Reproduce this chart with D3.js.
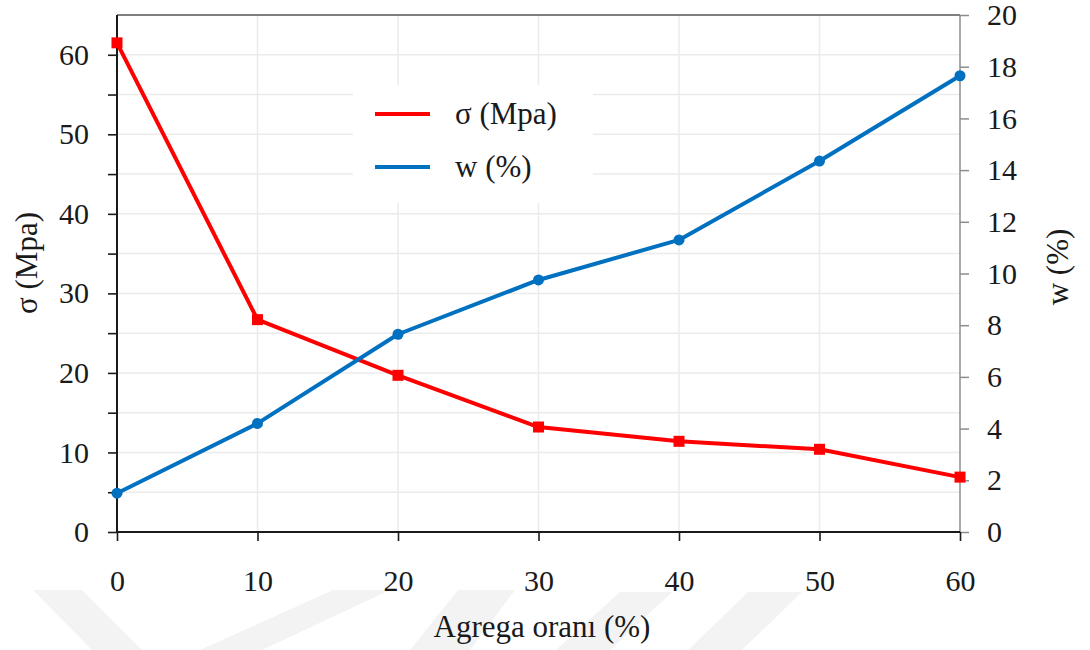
<!DOCTYPE html>
<html>
<head>
<meta charset="utf-8">
<script src="https://cdn.jsdelivr.net/npm/d3@7"></script>
<style>
  html, body { margin: 0; padding: 0; background: #ffffff; }
  svg { display: block; }
  .tick text { font-family: "Liberation Serif", "Times New Roman", serif; fill: #1a1a1a; }
</style>
</head>
<body>
<svg id="chart" width="1090" height="650"></svg>
<script>
// Aggregate ratio (%) on the x axis
const agregaOrani = [0, 10, 20, 30, 40, 50, 60];
// Compressive strength σ (MPa), left axis
const sigmaMpa = [61.5, 26.7, 19.7, 13.2, 11.4, 10.4, 6.9];
// Water absorption w (%), right axis
const wPercent = [1.5, 4.2, 7.65, 9.75, 11.3, 14.35, 17.65];

const xTicks = [0, 10, 20, 30, 40, 50, 60];
const leftTicks = [0, 5, 10, 15, 20, 25, 30, 35, 40, 45, 50, 55, 60];
const rightTicks = [0, 2, 4, 6, 8, 10, 12, 14, 16, 18, 20];
const seriesNames = ["σ (Mpa)", "w (%)"];

(function draw() {
  const svg = d3.select("#chart");
  const serif = '"Liberation Serif", "Times New Roman", serif';

  const pl = 117, pr = 960, pt = 15, pb = 532;
  const x = d3.scaleLinear().domain([0, 60]).range([pl, pr]);
  const yL = d3.scaleLinear().domain([0, 65]).range([pb, pt]);
  const yR = d3.scaleLinear().domain([0, 20]).range([pb, pt]);

  // faint background chevrons
  const bg = svg.append("g").attr("fill", "#f3f3f3");
  [
    "M33,590 L82,590 L142,650 L92,650 Z",
    "M333,590 L390,590 L262,650 L200,650 Z",
    "M458,590 L515,590 L470,650 L410,650 Z",
    "M620,592 L672,592 L610,650 L556,650 Z",
    "M748,592 L802,592 L742,650 L688,650 Z"
  ].forEach(d => bg.append("path").attr("d", d));

  // gridlines
  const grid = svg.append("g").attr("stroke", "#ebebeb").attr("stroke-width", 1.5);
  leftTicks.filter(v => v > 0).forEach(v => {
    grid.append("line").attr("x1", pl).attr("x2", pr).attr("y1", yL(v)).attr("y2", yL(v));
  });
  xTicks.filter(v => v > 0 && v < 60).forEach(v => {
    grid.append("line").attr("x1", x(v)).attr("x2", x(v)).attr("y1", pt).attr("y2", pb);
  });

  // left axis
  const gL = svg.append("g").attr("transform", `translate(${pl},0)`)
    .call(d3.axisLeft(yL).tickValues(leftTicks).tickSize(9).tickPadding(19)
      .tickFormat(v => v % 10 === 0 ? v : ""));
  gL.select(".domain").remove();
  gL.selectAll(".tick line").attr("stroke", "#1a1a1a").attr("stroke-width", 1.6);
  gL.selectAll(".tick text").attr("font-size", 30);

  // right axis
  const gR = svg.append("g").attr("transform", `translate(${pr},0)`)
    .call(d3.axisRight(yR).tickValues(rightTicks).tickSize(9).tickPadding(18));
  gR.select(".domain").remove();
  gR.selectAll(".tick line").attr("stroke", "#8c8c8c").attr("stroke-width", 1.5);
  gR.selectAll(".tick text").attr("font-size", 30);

  // bottom axis
  const gB = svg.append("g").attr("transform", `translate(0,${pb})`)
    .call(d3.axisBottom(x).tickValues(xTicks).tickSize(9).tickPadding(29));
  gB.select(".domain").remove();
  gB.selectAll(".tick line").attr("stroke", "#1a1a1a").attr("stroke-width", 1.6);
  gB.selectAll(".tick text").attr("font-size", 30);

  // frame
  svg.append("line").attr("x1", pl).attr("x2", pr).attr("y1", pt).attr("y2", pt)
    .attr("stroke", "#555").attr("stroke-width", 1.6);
  svg.append("line").attr("x1", pr).attr("x2", pr).attr("y1", pt).attr("y2", pb)
    .attr("stroke", "#8c8c8c").attr("stroke-width", 1.5);
  svg.append("line").attr("x1", pl).attr("x2", pr).attr("y1", pb).attr("y2", pb)
    .attr("stroke", "#1a1a1a").attr("stroke-width", 2);
  svg.append("line").attr("x1", pl).attr("x2", pl).attr("y1", pt).attr("y2", pb)
    .attr("stroke", "#1a1a1a").attr("stroke-width", 2);

  // legend (white box over gridlines)
  svg.append("rect").attr("x", 353).attr("y", 85).attr("width", 240).attr("height", 118).attr("fill", "#fff");
  const legendColors = ["#ff0000", "#0070c0"];
  seriesNames.forEach((name, i) => {
    const ly = 114 + i * 53;
    svg.append("line").attr("x1", 375).attr("x2", 430).attr("y1", ly).attr("y2", ly)
      .attr("stroke", legendColors[i]).attr("stroke-width", 4);
    svg.append("text").attr("x", 455).attr("y", ly + 10).attr("font-family", serif)
      .attr("font-size", 31).attr("fill", "#1a1a1a").text(name);
  });

  // σ series
  const sigmaData = agregaOrani.map((a, i) => [a, sigmaMpa[i]]);
  svg.append("path").datum(sigmaData)
    .attr("fill", "none").attr("stroke", "#ff0000").attr("stroke-width", 4)
    .attr("stroke-linejoin", "round")
    .attr("d", d3.line().x(d => x(d[0])).y(d => yL(d[1])));
  svg.append("g").selectAll("rect").data(sigmaData).join("rect")
    .attr("x", d => x(d[0]) - 5.5).attr("y", d => yL(d[1]) - 5.5)
    .attr("width", 11).attr("height", 11).attr("fill", "#ff0000");

  // w series
  const wData = agregaOrani.map((a, i) => [a, wPercent[i]]);
  svg.append("path").datum(wData)
    .attr("fill", "none").attr("stroke", "#0070c0").attr("stroke-width", 4)
    .attr("stroke-linejoin", "round")
    .attr("d", d3.line().x(d => x(d[0])).y(d => yR(d[1])));
  svg.append("g").selectAll("circle").data(wData).join("circle")
    .attr("cx", d => x(d[0])).attr("cy", d => yR(d[1])).attr("r", 5.5).attr("fill", "#0070c0");

  // axis titles
  svg.append("text").attr("x", 542).attr("y", 637).attr("text-anchor", "middle")
    .attr("font-family", serif).attr("font-size", 31).attr("fill", "#1a1a1a").text("Agrega oranı (%)");
  svg.append("text").attr("transform", "translate(37,263) rotate(-90)").attr("text-anchor", "middle")
    .attr("font-family", serif).attr("font-size", 31).attr("fill", "#1a1a1a").text("σ (Mpa)");
  svg.append("text").attr("transform", "translate(1068,267) rotate(-90)").attr("text-anchor", "middle")
    .attr("font-family", serif).attr("font-size", 31).attr("fill", "#1a1a1a").text("w (%)");
})();
</script>
</body>
</html>
